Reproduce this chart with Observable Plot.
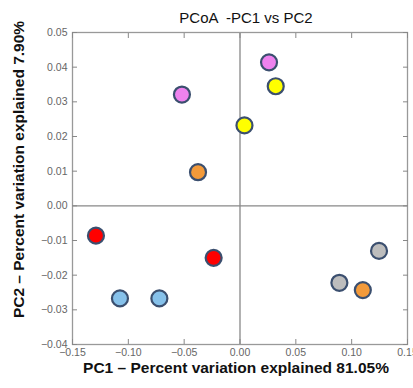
<!DOCTYPE html>
<html><head><meta charset="utf-8">
<script src="https://cdn.jsdelivr.net/npm/d3@7"></script>
<script src="https://cdn.jsdelivr.net/npm/@observablehq/plot@0.6"></script>
<style>
html,body{margin:0;padding:0;background:#fff;}
</style>
</head><body><div id="chart"></div>
<script>
const pc1 = [0.026, -0.052, 0.032, 0.004, -0.0376, -0.129, -0.0236, 0.1245, 0.089, 0.110, -0.1075, -0.0722];
const pc2 = [0.0414, 0.0321, 0.0345, 0.0232, 0.0097, -0.0086, -0.0150, -0.0130, -0.0222, -0.0243, -0.0267, -0.0267];
const groups = ["G1", "G1", "G2", "G2", "G3", "G4", "G4", "G5", "G5", "G3", "G6", "G6"];
const groupNames = ["G1", "G2", "G3", "G4", "G5", "G6"];
const groupColors = ["#ee82ee", "#ffff00", "#f39a3a", "#ff0000", "#bdbdbd", "#86c1ea"];
const xTicks = [-0.15, -0.10, -0.05, 0.00, 0.05, 0.10, 0.15];
const yTicks = [-0.04, -0.03, -0.02, -0.01, 0.00, 0.01, 0.02, 0.03, 0.04, 0.05];
const title = "PCoA  -PC1 vs PC2";
const xLabel = "PC1 – Percent variation explained 81.05%";
const yLabel = "PC2 – Percent variation explained 7.90%";

const data = pc1.map((x, i) => ({x, y: pc2[i], g: groups[i]}));
const fmt = v => (v < 0 ? "\u2212" : "") + Math.abs(v).toFixed(2);

const plot = Plot.plot({
  width: 413, height: 388,
  marginLeft: 72, marginRight: 6, marginTop: 32, marginBottom: 44,
  style: {fontFamily: "Liberation Sans, Arial, sans-serif", background: "#fff", overflow: "visible"},
  x: {domain: [-0.15, 0.15], ticks: xTicks, label: null},
  y: {domain: [-0.04, 0.05], ticks: yTicks, label: null},
  color: {domain: groupNames, range: groupColors},
  marks: [
    Plot.ruleX([0], {stroke: "#888", strokeWidth: 1.3}),
    Plot.ruleY([0], {stroke: "#888", strokeWidth: 1.3}),
    Plot.frame({stroke: "#999", strokeWidth: 1.3}),
    Plot.axisX({anchor: "bottom", ticks: xTicks, tickSize: -5, tickPadding: 9, tickFormat: fmt, fill: "#666", fontSize: 10.5, stroke: "#888", label: null}),
    Plot.axisX({anchor: "top", ticks: xTicks, tickSize: -5, tickFormat: () => "", stroke: "#888", label: null}),
    Plot.axisY({anchor: "left", ticks: yTicks, tickSize: -5, tickPadding: 10, tickFormat: fmt, fill: "#666", fontSize: 10.5, stroke: "#888", label: null}),
    Plot.axisY({anchor: "right", ticks: yTicks, tickSize: -5, tickFormat: () => "", stroke: "#888", label: null}),
    Plot.dot(data, {x: "x", y: "y", fill: "g", r: 8, stroke: "#3b4f6f", strokeWidth: 2.2}),
    Plot.text([title], {frameAnchor: "top", dy: -20, dx: 6, text: d => d, fontSize: 15, fill: "#111"}),
    Plot.text([xLabel], {frameAnchor: "bottom", dy: 28, dx: -4, text: d => d, fontSize: 15.5, fontWeight: "bold", fill: "#111"}),
    Plot.text([yLabel], {frameAnchor: "left", textAnchor: "middle", dx: -53, dy: -19, rotate: -90, text: d => d, fontSize: 15.5, fontWeight: "bold", fill: "#111"})
  ]
});
document.getElementById("chart").appendChild(plot);
</script>
</body></html>
